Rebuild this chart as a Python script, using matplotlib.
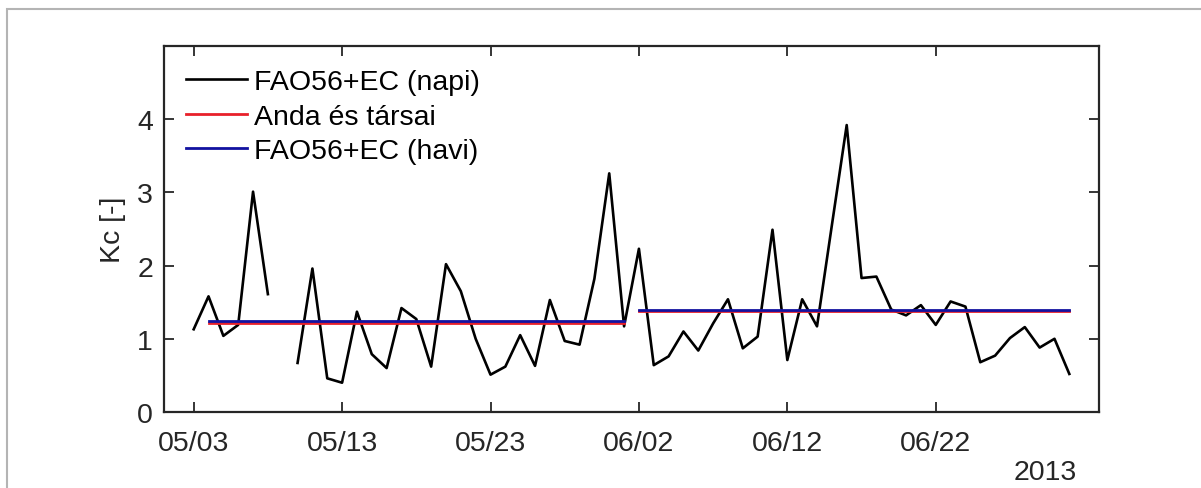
import numpy as np
import matplotlib
matplotlib.use("Agg")
import matplotlib.pyplot as plt
import matplotlib.dates as mdates
from matplotlib.patches import Rectangle
import datetime as dt

plt.rcParams['font.family'] = ['Liberation Sans', 'DejaVu Sans']

# ---- data ----
start_date = dt.date(2013, 5, 3)
kc_daily = [1.13, 1.58, 1.04, 1.19, 3.01, 1.61, np.nan, 0.67, 1.96, 0.46,
            0.40, 1.37, 0.79, 0.60, 1.42, 1.27, 0.62, 2.02, 1.65, 1.00,
            0.51, 0.62, 1.05, 0.63, 1.53, 0.97, 0.92, 1.82, 3.26, 1.17,
            2.23, 0.64, 0.76, 1.10, 0.84, 1.21, 1.54, 0.87, 1.03, 2.49,
            0.71, 1.54, 1.17, 2.55, 3.92, 1.83, 1.85, 1.40, 1.32, 1.46,
            1.19, 1.51, 1.44, 0.68, 0.77, 1.01, 1.16, 0.88, 1.00, 0.52]
dates = [start_date + dt.timedelta(days=i) for i in range(len(kc_daily))]

seg_start = [dt.date(2013, 5, 4), dt.date(2013, 6, 2)]
seg_end = [dt.date(2013, 6, 1), dt.date(2013, 7, 1)]
anda = [1.21, 1.38]
fao_monthly = [1.25, 1.39]

labels = ['FAO56+EC (napi)', 'Anda és társai', 'FAO56+EC (havi)']
yticks = [0, 1, 2, 3, 4]
xtick_dates = [dt.date(2013, 5, 3) + dt.timedelta(days=10 * i) for i in range(6)]

# ---- figure ----
W, H = 1201, 489
fig = plt.figure(figsize=(W / 100, H / 100), dpi=100)
fig.patches.append(Rectangle((7 / W, -0.1), 1.2, (H - 10) / H + 0.1,
                             transform=fig.transFigure, fill=False,
                             edgecolor='#b4b4b4', linewidth=1.5))

ax = fig.add_axes([164 / W, (H - 413) / H, (1099 - 164) / W, (413 - 47) / H])

fs = 20.5
tc = '#262626'
l1, = ax.plot(dates, kc_daily, color='black', lw=1.9, label=labels[0])
for i in range(2):
    lr, = ax.plot([seg_start[i], seg_end[i]], [anda[i], anda[i]], color='#e8202a', lw=2.0)
    lb, = ax.plot([seg_start[i], seg_end[i]], [fao_monthly[i], fao_monthly[i]], color='#1212a0', lw=2.0)
lr.set_label(labels[1])
lb.set_label(labels[2])

ax.set_xlim(dt.date(2013, 5, 1), dt.date(2013, 7, 3))
ax.set_ylim(0, 5)
ax.set_yticks(yticks)
ax.set_xticks(xtick_dates)
ax.xaxis.set_major_formatter(mdates.DateFormatter('%m/%d'))
ax.tick_params(direction='in', length=7, width=1.3, top=True, right=True,
               labelsize=fs, colors=tc, pad=13)
ax.tick_params(axis='y', pad=8)
for s in ax.spines.values():
    s.set_linewidth(1.6)
    s.set_color(tc)

ax.set_ylabel('Kc [-]', fontsize=fs, color=tc, labelpad=8)

fig.text(1045 / W, 1 - 473 / H, '2013', fontsize=fs, color=tc, ha='center', va='center')

leg = ax.legend(handles=[l1, lr, lb], loc='upper left', frameon=False,
                bbox_to_anchor=(22 / 935, 1 - 23 / 366), borderaxespad=0, borderpad=0,
                handlelength=2.15, handletextpad=0.25, labelspacing=0.30, fontsize=fs)
for t in leg.get_texts():
    t.set_color('black')

fig.savefig('out.png', dpi=100)
